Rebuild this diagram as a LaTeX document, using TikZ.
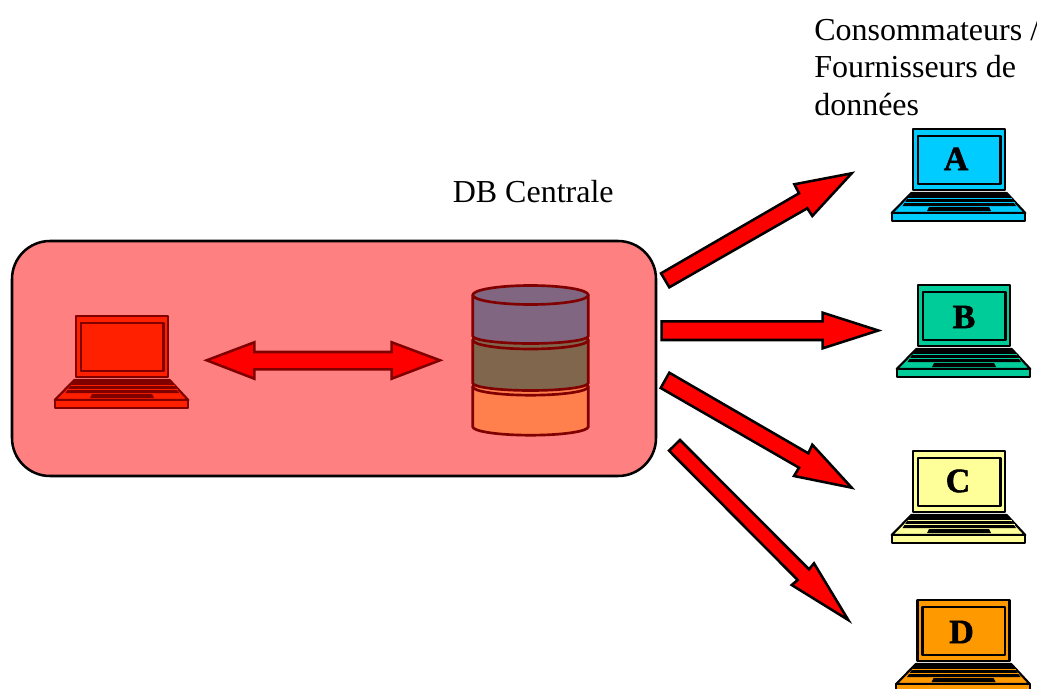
\documentclass[tikz,border=0pt]{standalone}
\usepackage{fontspec}
\setmainfont{Liberation Serif}
\newfontfamily\heavyserif{Liberation Serif}[BoldFeatures={FakeBold=1.6}]
\definecolor{panel}{RGB}{255,128,128}
\definecolor{darkred}{RGB}{128,0,0}
\definecolor{lapred}{RGB}{255,32,0}
\definecolor{lapa}{RGB}{0,204,255}
\definecolor{lapb}{RGB}{0,204,153}
\definecolor{lapc}{RGB}{255,255,153}
\definecolor{lapd}{RGB}{255,153,0}
\definecolor{cyla}{RGB}{128,102,128}
\definecolor{cylb}{RGB}{128,102,77}
\definecolor{cylc}{RGB}{255,128,77}
\tikzset{
  x=0.75pt,y=-0.75pt,
  blockarrow/.style={draw=black,fill=red,line width=1.9pt,line join=miter},
  label/.style={font=\fontsize{24}{28}\selectfont,inner sep=0pt,anchor=base west},
  letter/.style={font=\heavyserif\fontsize{25.5}{28}\selectfont\bfseries,inner sep=0pt,text=black},
  cyl/.style={draw=darkred,line width=2pt},
}
% \lap{x}{y}{fill}{line}
\newcommand{\lap}[4]{%
\begin{scope}[shift={(#1,#2)},draw=#4,line width=1.6pt,line join=round]
  \draw[fill=#3] (0,0) rectangle (92,61);
  \draw[fill=#3] (5,7) rectangle (87.5,55);
  \draw[fill=#3] (-21.3,84) -- (-1.7,64) -- (93.7,64) -- (112.3,84) -- cycle;
  \draw[fill=#3] (-21.3,84) rectangle (112.3,92);
  \fill[#4] (-1.7,64) -- (93.7,64) -- (103,77) -- (-10.5,77) -- cycle;
  \draw[#3,line width=0.7pt] (-5.5,69) -- (98.5,69);
  \draw[#3,line width=0.7pt] (-9,73.3) -- (101.8,73.3);
  \fill[#4] (16,78) -- (76,78) -- (78,82) -- (14,82) -- cycle;
\end{scope}}
% \cylayer{top y}{top ry}{bottom y}{bottom ry}{fill}
\newcommand{\cylayer}[5]{%
  \draw[cyl,fill=#5] (472.7,#1) arc[start angle=180,end angle=360,x radius=57.8,y radius=#2] -- (588.3,#3) arc[start angle=0,end angle=180,x radius=57.8,y radius=#4] -- cycle;
  \draw[cyl] (472.7,#1) arc[start angle=180,end angle=0,x radius=57.8,y radius=#2];}
\begin{document}
\begin{tikzpicture}
\clip (0,0) rectangle (1037,688);
\fill[white] (0,0) rectangle (1037,688);
% central panel
\draw[fill=panel,draw=black,line width=1.9pt,rounded corners=28.5pt] (12,241) rectangle (656,476);
% server laptop
\lap{76}{316}{lapred}{darkred}
% double arrow
\draw[fill=red,draw=darkred,line width=1.9pt] (206.7,360.3) -- (254.3,342.3) -- (254.3,352) -- (391.7,352) -- (391.7,342.3) -- (440,360.3) -- (391.7,378.7) -- (391.7,369.3) -- (254.3,369.3) -- (254.3,378.7) -- cycle;
% database
\cylayer{386.7}{8.5}{426.7}{8.5}{cylc}
\cylayer{340}{9}{383}{7.5}{cylb}
\cylayer{295}{9.5}{336}{7.5}{cyla}
% block arrows
\draw[blockarrow] (661,273.3) -- (799,193.3) -- (794.3,184.3) -- (851.7,173.3) -- (812.3,216) -- (807.3,208.3) -- (669.3,287.3) -- cycle;
\draw[blockarrow] (661.7,321.3) -- (822.7,321.3) -- (822.7,312.7) -- (878.3,330.5) -- (822.7,348.3) -- (822.7,340) -- (661.7,340) -- cycle;
\draw[blockarrow] (669.3,372.7) -- (808.3,453.3) -- (812.3,444.7) -- (851.7,487.7) -- (794,476) -- (799,467.7) -- (660.7,388) -- cycle;
\draw[blockarrow] (680,440) -- (809,569.3) -- (814,563.3) -- (848.3,620) -- (791.7,585) -- (797.7,580) -- (669,450.7) -- cycle;
% client laptops
\lap{913}{129}{lapa}{black}
\lap{918}{285}{lapb}{black}
\lap{913}{451}{lapc}{black}
\lap{917.5}{600}{lapd}{black}
\node[letter] (la) at (956,159) {A};
\node[letter] (lb) at (964,317) {B};
\node[letter] (lc) at (958,481) {C};
\node[letter] (ld) at (961.5,632) {D};
% labels
\node[label] (db) at (452.5,202) {DB Centrale};
\node[label] (t1) at (814,41) {Consommateurs /};
\node[label] (t2) at (814,78) {Fournisseurs de};
\node[label] (t3) at (814,115.5) {données};
\end{tikzpicture}
\end{document}
